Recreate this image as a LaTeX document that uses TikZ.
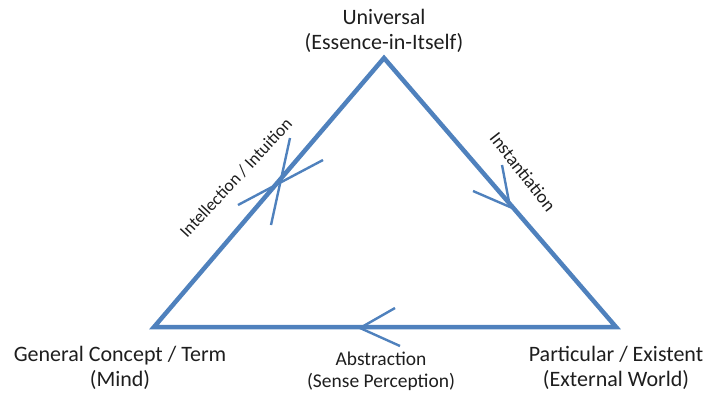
\documentclass[tikz,border=0pt]{standalone}
\usepackage{fontspec}
\setmainfont{Carlito}
\definecolor{edgeblue}{RGB}{79,129,189}
\definecolor{txt}{RGB}{30,30,30}
\begin{document}
\begin{tikzpicture}[x=1pt,y=-1pt,
  edge/.style={draw=edgeblue,line width=4.5pt,line join=miter},
  tick/.style={draw=edgeblue,line width=2.4pt},
  lab/.style={text=txt,font=\fontsize{22}{24.5}\selectfont,align=center,inner sep=0pt},
  slab/.style={text=txt,font=\fontsize{19.5}{22}\selectfont,align=center,inner sep=0pt},
  rlab/.style={text=txt,align=center,inner sep=0pt}]
\useasboundingbox (0,0) rectangle (708,392);
\coordinate (top) at (384,58);
\coordinate (bl) at (154,327);
\coordinate (br) at (616,327);
\draw[edge] (bl) -- (top) -- (br) -- cycle;
% Intellection arrow (crossed)
\coordinate (a1) at (238,205); \coordinate (a2) at (323,160);
\coordinate (a3) at (271,225); \coordinate (a4) at (290,138);
\draw[tick] (a1) -- (a2);
\draw[tick] (a3) -- (a4);
% Instantiation arrow
\coordinate (b0) at (510,207); \coordinate (b1) at (502,165); \coordinate (b2) at (473,191);
\draw[tick] (b1) -- (b0) -- (b2);
% Abstraction arrow
\coordinate (c0) at (360,328); \coordinate (c1) at (395,308); \coordinate (c2) at (400,346);
\draw[tick] (c1) -- (c0) -- (c2);
% labels
\node[lab] (u) at (384,31) {Universal\\(Essence-in-Itself)};
\node[lab] (g) at (120,368) {General Concept / Term\\(Mind)};
\node[lab] (p) at (616,368) {Particular / Existent\\(External World)};
\node[slab] (ab) at (381,371) {Abstraction\\(Sense Perception)};
\node[rlab,font=\fontsize{17.5}{20}\selectfont,rotate=47] (ii) at (236,178) {Intellection / Intuition};
\node[rlab,font=\fontsize{18.5}{20}\selectfont,rotate=-52] (in) at (523,172) {Instantiation};
\end{tikzpicture}
\end{document}
